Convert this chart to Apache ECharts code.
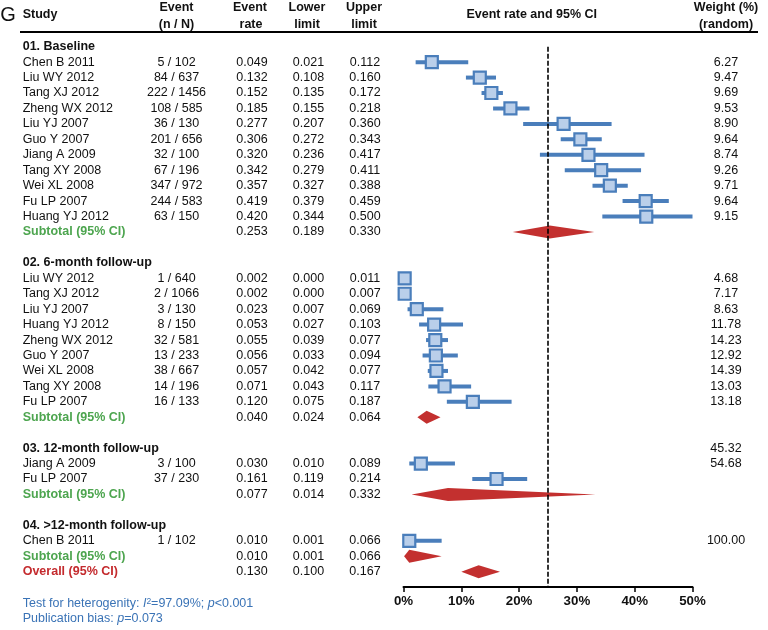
<!DOCTYPE html>
<html><head><meta charset="utf-8">
<script src="https://cdn.jsdelivr.net/npm/echarts@6/dist/echarts.min.js"></script>
<style>html,body{margin:0;padding:0;background:#fff}#c{width:768px;height:630px}</style>
</head><body><div id="c"></div>
<script>
// ---------------- DATA ----------------
const groupTitles = ['01. Baseline', '02. 6-month follow-up', '03. 12-month follow-up', '04. >12-month follow-up'];

const g1Studies = ['Chen B 2011','Liu WY 2012','Tang XJ 2012','Zheng WX 2012','Liu YJ 2007','Guo Y 2007','Jiang A 2009','Tang XY 2008','Wei XL 2008','Fu LP 2007','Huang YJ 2012'];
const g1Events  = ['5 / 102','84 / 637','222 / 1456','108 / 585','36 / 130','201 / 656','32 / 100','67 / 196','347 / 972','244 / 583','63 / 150'];
const g1Rate    = [0.049,0.132,0.152,0.185,0.277,0.306,0.320,0.342,0.357,0.419,0.420];
const g1Lower   = [0.021,0.108,0.135,0.155,0.207,0.272,0.236,0.279,0.327,0.379,0.344];
const g1Upper   = [0.112,0.160,0.172,0.218,0.360,0.343,0.417,0.411,0.388,0.459,0.500];
const g1Weight  = [6.27,9.47,9.69,9.53,8.90,9.64,8.74,9.26,9.71,9.64,9.15];
const g1Subtotal = [0.253,0.189,0.330];

const g2Studies = ['Liu WY 2012','Tang XJ 2012','Liu YJ 2007','Huang YJ 2012','Zheng WX 2012','Guo Y 2007','Wei XL 2008','Tang XY 2008','Fu LP 2007'];
const g2Events  = ['1 / 640','2 / 1066','3 / 130','8 / 150','32 / 581','13 / 233','38 / 667','14 / 196','16 / 133'];
const g2Rate    = [0.002,0.002,0.023,0.053,0.055,0.056,0.057,0.071,0.120];
const g2Lower   = [0.000,0.000,0.007,0.027,0.039,0.033,0.042,0.043,0.075];
const g2Upper   = [0.011,0.007,0.069,0.103,0.077,0.094,0.077,0.117,0.187];
const g2Weight  = [4.68,7.17,8.63,11.78,14.23,12.92,14.39,13.03,13.18];
const g2Subtotal = [0.040,0.024,0.064];

const g3Studies = ['Jiang A 2009','Fu LP 2007'];
const g3Events  = ['3 / 100','37 / 230'];
const g3Rate    = [0.030,0.161];
const g3Lower   = [0.010,0.119];
const g3Upper   = [0.089,0.214];
const g3Weight  = [45.32,54.68];
const g3Subtotal = [0.077,0.014,0.332];

const g4Studies = ['Chen B 2011'];
const g4Events  = ['1 / 102'];
const g4Rate    = [0.010];
const g4Lower   = [0.001];
const g4Upper   = [0.066];
const g4Weight  = [100.00];
const g4Subtotal = [0.010,0.001,0.066];

const overall = [0.130,0.100,0.167];
const referenceRate = 0.25;
const xTickValues = [0, 0.1, 0.2, 0.3, 0.4, 0.5];
const xTickLabels = ['0%','10%','20%','30%','40%','50%'];

// ---------------- LAYOUT / STYLE ----------------
const FONT = '"Liberation Sans", Arial, sans-serif';
const FS = 12.5;
const ROW_TOP = 46.7, ROW_STEP = 15.44, NROWS = 35;
const colX = {study: 22.7, event: 176.5, rate: 252, lower: 308.5, upper: 365, weight: 726};
const colAlign = {study: 'left', event: 'center', rate: 'center', lower: 'center', upper: 'center', weight: 'center'};
const weightRowShift = [0, 0, -1, 0];
const GREEN = '#4da54f', RED = '#c42b2e', BLUE_TXT = '#3a73b6';
const SQ_FILL = '#bacfea', SQ_LINE = '#4a7ebb', DIA = '#c3302f';

const groups = [
  {studies:g1Studies, events:g1Events, rate:g1Rate, lower:g1Lower, upper:g1Upper, weight:g1Weight, sub:g1Subtotal},
  {studies:g2Studies, events:g2Events, rate:g2Rate, lower:g2Lower, upper:g2Upper, weight:g2Weight, sub:g2Subtotal},
  {studies:g3Studies, events:g3Events, rate:g3Rate, lower:g3Lower, upper:g3Upper, weight:g3Weight, sub:g3Subtotal},
  {studies:g4Studies, events:g4Events, rate:g4Rate, lower:g4Lower, upper:g4Upper, weight:g4Weight, sub:g4Subtotal}
];

const tableItems = [];
const forestItems = [];
function addText(col, row, text, kind) { tableItems.push({col, row, text, kind}); }
let r = 0;
groups.forEach((g, gi) => {
  addText('study', r, groupTitles[gi], 'heading'); r++;
  g.studies.forEach((s, i) => {
    addText('study', r, s, 'normal');
    addText('event', r, g.events[i], 'normal');
    addText('rate', r, g.rate[i].toFixed(3), 'normal');
    addText('lower', r, g.lower[i].toFixed(3), 'normal');
    addText('upper', r, g.upper[i].toFixed(3), 'normal');
    addText('weight', r + weightRowShift[gi], g.weight[i].toFixed(2), 'normal');
    forestItems.push({kind:'study', row:r, rate:g.rate[i], lower:g.lower[i], upper:g.upper[i]});
    r++;
  });
  addText('study', r, 'Subtotal (95% CI)', 'subtotal');
  addText('rate', r, g.sub[0].toFixed(3), 'normal');
  addText('lower', r, g.sub[1].toFixed(3), 'normal');
  addText('upper', r, g.sub[2].toFixed(3), 'normal');
  forestItems.push({kind:'diamond', row:r, rate:g.sub[0], lower:g.sub[1], upper:g.sub[2]});
  r++;
  if (gi < groups.length - 1) r++;
});
addText('study', r, 'Overall (95% CI)', 'overall');
addText('rate', r, overall[0].toFixed(3), 'normal');
addText('lower', r, overall[1].toFixed(3), 'normal');
addText('upper', r, overall[2].toFixed(3), 'normal');
forestItems.push({kind:'diamond', row:r, rate:overall[0], lower:overall[1], upper:overall[2]});

const kindStyle = {
  heading: {fill:'#111', fontWeight:'bold'},
  normal: {fill:'#111', fontWeight:'normal'},
  subtotal: {fill:GREEN, fontWeight:'bold'},
  overall: {fill:RED, fontWeight:'bold'}
};

const chart = echarts.init(document.getElementById('c'), null, {renderer:'canvas'});
const gridH = NROWS * ROW_STEP;

function hdr(x, y, text, align) {
  return {type:'text', x, y, style:{text, fill:'#111', font:'bold ' + FS + 'px ' + FONT, align: align || 'center', verticalAlign:'middle'}};
}

chart.setOption({
  animation: false,
  backgroundColor: '#fff',
  grid: [
    {left: 403.5, top: ROW_TOP, width: 289, height: gridH},
    {left: 0, top: ROW_TOP, width: 768, height: gridH}
  ],
  xAxis: [
    {gridIndex:0, type:'value', position:'bottom', min:0, max:0.5, interval:0.1,
     axisLine:{show:true, onZero:false, lineStyle:{color:'#000', width:2}},
     axisTick:{show:true, inside:false, length:5, lineStyle:{color:'#000', width:1.5}},
     splitLine:{show:false},
     axisLabel:{margin:8, color:'#111', fontWeight:'bold', fontSize:13.3, fontFamily:FONT,
       formatter: v => { const k = xTickValues.findIndex(t => Math.abs(t - v) < 1e-9); return k >= 0 ? xTickLabels[k] : ''; }}},
    {gridIndex:1, type:'value', min:0, max:768, show:false}
  ],
  yAxis: [
    {gridIndex:0, type:'value', min:0, max:NROWS, inverse:true, show:false},
    {gridIndex:1, type:'value', min:0, max:NROWS, inverse:true, show:false}
  ],
  series: [
    {
      type:'custom', xAxisIndex:0, yAxisIndex:0, clip:false, silent:true,
      data: forestItems.map(f => [f.rate, f.row, f.lower, f.upper]),
      encode:{x:0, y:1},
      renderItem: (params, api) => {
        const it = forestItems[params.dataIndex];
        const c = api.coord([api.value(0), api.value(1)]);
        const lo = api.coord([api.value(2), api.value(1)]);
        const hi = api.coord([api.value(3), api.value(1)]);
        if (it.kind === 'study') {
          return {type:'group', children:[
            {type:'line', shape:{x1:lo[0], y1:c[1], x2:hi[0], y2:c[1]}, style:{stroke:SQ_LINE, lineWidth:4}},
            {type:'rect', shape:{x:c[0]-6, y:c[1]-6, width:12, height:12}, style:{fill:SQ_FILL, stroke:SQ_LINE, lineWidth:2.2}}
          ]};
        }
        const h = 6.5;
        return {type:'polygon', shape:{points:[[lo[0], c[1]], [c[0], c[1]-h], [hi[0], c[1]], [c[0], c[1]+h]]}, style:{fill:DIA}};
      },
      markLine: {
        silent:true, symbol:['none','none'], label:{show:false},
        lineStyle:{color:'#000', type:[5,2], width:1.6},
        data:[{xAxis:referenceRate}]
      },
      z: 3
    },
    {
      type:'custom', xAxisIndex:1, yAxisIndex:1, clip:false, silent:true,
      data: tableItems.map(t => [colX[t.col], t.row]),
      encode:{x:0, y:1},
      renderItem: (params, api) => {
        const it = tableItems[params.dataIndex];
        const p = api.coord([api.value(0), api.value(1)]);
        const ks = kindStyle[it.kind];
        return {type:'text', x:p[0], y:p[1], style:{
          text: it.text, fill: ks.fill,
          font: ks.fontWeight + ' ' + FS + 'px ' + FONT,
          align: colAlign[it.col], verticalAlign:'middle'}};
      }
    }
  ],
  graphic: [
    {type:'text', x:8, y:15.5, style:{text:'G', fill:'#111', font:'normal 20px ' + FONT, align:'center', verticalAlign:'middle'}},
    hdr(22.7, 15, 'Study', 'left'),
    hdr(176.5, 8, 'Event'), hdr(176.5, 24.5, '(n / N)'),
    hdr(250, 8, 'Event'), hdr(251, 24.5, 'rate'),
    hdr(307, 8, 'Lower'), hdr(307, 24.5, 'limit'),
    hdr(364, 8, 'Upper'), hdr(364, 24.5, 'limit'),
    hdr(531.7, 15, 'Event rate and 95% CI'),
    hdr(726, 8, 'Weight (%)'), hdr(726, 24.5, '(random)'),
    {type:'line', shape:{x1:20, y1:32, x2:758, y2:32}, style:{stroke:'#000', lineWidth:2.2}},
    {type:'text', x:22.7, y:603.3, style:{
      rich:{
        n:{fill:BLUE_TXT, font:'normal ' + FS + 'px ' + FONT},
        i:{fill:BLUE_TXT, font:'italic ' + FS + 'px ' + FONT},
        s:{fill:BLUE_TXT, font:'normal 8.5px ' + FONT, verticalAlign:'top'}
      },
      text:'{n|Test for heterogenity: }{i|I}{s|2}{n|=97.09%; }{i|p}{n|<0.001}', verticalAlign:'middle'}},
    {type:'text', x:22.7, y:619, style:{
      rich:{
        n:{fill:BLUE_TXT, font:'normal ' + FS + 'px ' + FONT},
        i:{fill:BLUE_TXT, font:'italic ' + FS + 'px ' + FONT}
      },
      text:'{n|Publication bias: }{i|p}{n|=0.073}', verticalAlign:'middle'}}
  ]
});
</script>
</body></html>
